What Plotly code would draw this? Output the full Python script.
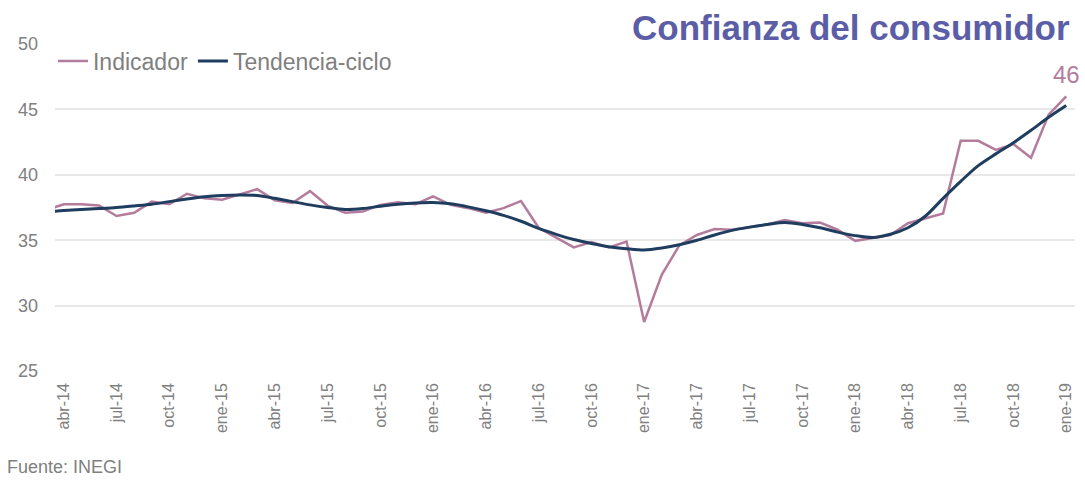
import plotly.graph_objects as go

# Monthly periods (mar-14 sits just left of the visible axis range, as in the source)
meses = ["mar-14",
         "abr-14", "may-14", "jun-14", "jul-14", "ago-14", "sep-14", "oct-14", "nov-14", "dic-14",
         "ene-15", "feb-15", "mar-15", "abr-15", "may-15", "jun-15", "jul-15", "ago-15", "sep-15",
         "oct-15", "nov-15", "dic-15", "ene-16", "feb-16", "mar-16", "abr-16", "may-16", "jun-16",
         "jul-16", "ago-16", "sep-16", "oct-16", "nov-16", "dic-16", "ene-17", "feb-17", "mar-17",
         "abr-17", "may-17", "jun-17", "jul-17", "ago-17", "sep-17", "oct-17", "nov-17", "dic-17",
         "ene-18", "feb-18", "mar-18", "abr-18", "may-18", "jun-18", "jul-18", "ago-18", "sep-18",
         "oct-18", "nov-18", "dic-18", "ene-19"]

indicador = [37.3, 37.75, 37.75, 37.65, 36.85, 37.1, 37.95, 37.75, 38.55, 38.2, 38.1, 38.5, 38.9,
             38.05, 37.85, 38.75, 37.65, 37.1, 37.2, 37.7, 37.9, 37.75, 38.35, 37.7, 37.45, 37.1,
             37.45, 38.0, 35.95, 35.2, 34.45, 34.85, 34.45, 34.9, 28.75, 32.35, 34.6, 35.4, 35.85,
             35.8, 36.0, 36.2, 36.55, 36.3, 36.35, 35.8, 34.95, 35.2, 35.4, 36.3, 36.7, 37.05,
             42.6, 42.6, 41.9, 42.35, 41.3, 44.6, 46.0]

tendencia = [37.13, 37.28, 37.35, 37.42, 37.5, 37.62, 37.75, 37.95, 38.15, 38.32, 38.42, 38.45,
             38.42, 38.2, 37.95, 37.7, 37.5, 37.35, 37.42, 37.6, 37.75, 37.85, 37.88, 37.78, 37.55,
             37.25, 36.9, 36.45, 35.9, 35.45, 35.05, 34.75, 34.5, 34.35, 34.25, 34.4, 34.65, 35.0,
             35.4, 35.75, 36.0, 36.2, 36.35, 36.2, 35.95, 35.62, 35.35, 35.2, 35.45, 35.95, 36.85,
             38.2, 39.5, 40.7, 41.6, 42.45, 43.4, 44.4, 45.3]

ultimo_valor = "46"

x = list(range(-1, len(meses) - 1))
tick_vals = x[1::3]
tick_text = meses[1::3]

PINK = "#B47C9C"
NAVY = "#1F3D5F"
GRAY = "#808080"
FONT = "Liberation Sans"

fig = go.Figure()
fig.add_trace(go.Scatter(x=x, y=indicador, mode="lines", name="Indicador",
                         line=dict(color=PINK, width=2.5)))
fig.add_trace(go.Scatter(x=x, y=tendencia, mode="lines", name="Tendencia-ciclo",
                         line=dict(color=NAVY, width=3, shape="spline", smoothing=0.8)))

fig.add_annotation(x=x[-1], y=indicador[-1], text=ultimo_valor, showarrow=False,
                   yshift=22, font=dict(family=FONT, size=24, color=PINK))

fig.add_annotation(xref="paper", yref="paper", x=0.997, y=1.0, yshift=17, xanchor="right",
                   yanchor="middle", text="<b>Confianza del consumidor</b>", showarrow=False,
                   font=dict(family=FONT, size=35, color="#5B5EA6"))

fig.add_annotation(xref="paper", yref="paper", x=-0.049, y=0, yshift=-96, xanchor="left",
                   yanchor="middle", text="Fuente: INEGI", showarrow=False,
                   font=dict(family=FONT, size=18, color=GRAY))

fig.update_layout(
    width=1085, height=480,
    margin=dict(l=55, r=10, t=44, b=109),
    paper_bgcolor="white", plot_bgcolor="white",
    font=dict(family=FONT, color=GRAY),
    showlegend=True,
    legend=dict(orientation="h", x=-0.002, y=0.948, xanchor="left", yanchor="middle",
                font=dict(family=FONT, size=23, color=GRAY), bgcolor="rgba(0,0,0,0)",
                itemwidth=30, tracegroupgap=0),
    xaxis=dict(range=[-0.5, len(meses) - 1.5], tickmode="array", tickvals=tick_vals,
               ticktext=tick_text, tickangle=-90, showgrid=False, zeroline=False,
               showline=False, ticks="", tickfont=dict(family=FONT, size=16, color=GRAY),
               ticklabelstandoff=8),
    yaxis=dict(range=[25, 50], dtick=5, tick0=25, showgrid=True, gridcolor="#E8E8E8",
               gridwidth=1.5, zeroline=False, showline=False, ticks="",
               tickfont=dict(family=FONT, size=18, color=GRAY), ticklabelstandoff=16),
)

fig.write_html("out.html", config={"displayModeBar": False},
               post_script="document.body.style.margin='0';document.body.style.padding='0';")
